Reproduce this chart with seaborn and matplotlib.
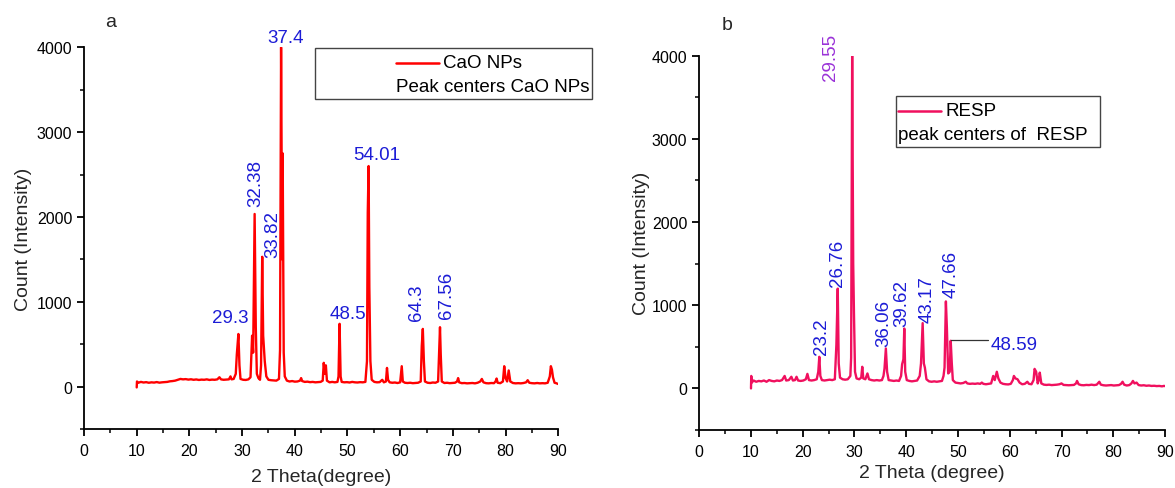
import numpy as np
import pandas as pd
import seaborn as sns
import matplotlib
matplotlib.use("Agg")
import matplotlib.pyplot as plt
from matplotlib.lines import Line2D
from matplotlib.offsetbox import (AnchoredOffsetbox, VPacker, HPacker,
                                  TextArea, DrawingArea)

# ---------------- XRD pattern: CaO nanoparticles ----------------
cao_theta = [
    10.0, 10.05, 10.3, 10.8, 11.3, 11.8, 12.3, 12.8, 13.3, 13.8, 14.3, 14.8,
    15.3, 15.8, 16.3, 16.8, 17.3, 17.8, 18.3, 18.8, 19.3, 19.8, 20.3, 20.8,
    21.3, 21.8, 22.3, 22.8, 23.3, 23.8, 24.3, 24.8, 25.3, 25.7, 26.0, 26.5,
    27.0, 27.5, 27.8, 28.0, 28.4, 28.8, 29.0, 29.3, 29.5, 29.7, 30.2, 30.7,
    31.2, 31.6, 31.9, 32.1, 32.38, 32.6, 32.8, 33.1, 33.4, 33.6, 33.82, 34.0,
    34.3, 34.6, 35.0, 35.5, 36.0, 36.5, 37.0, 37.2, 37.4, 37.6, 37.7, 37.9,
    38.1, 38.5, 39.0, 39.5, 40.0, 40.5, 41.0, 41.2, 41.4, 41.9, 42.4, 42.9,
    43.4, 43.9, 44.4, 44.9, 45.3, 45.5, 45.7, 45.9, 46.1, 46.6, 47.1, 47.6,
    48.1, 48.3, 48.5, 48.7, 48.9, 49.4, 49.9, 50.4, 50.9, 51.4, 51.9, 52.4,
    52.9, 53.4, 53.7, 53.85, 54.01, 54.15, 54.35, 54.6, 55.1, 55.6, 56.1, 56.6,
    56.9, 57.3, 57.5, 57.7, 58.0, 58.5, 59.0, 59.5, 60.0, 60.3, 60.5, 60.9,
    61.4, 61.9, 62.4, 62.9, 63.4, 63.9, 64.1, 64.3, 64.5, 64.7, 65.2, 65.7,
    66.2, 66.7, 67.2, 67.56, 67.7, 67.9, 68.4, 68.9, 69.4, 69.9, 70.4, 70.8,
    71.0, 71.2, 71.7, 72.2, 72.7, 73.2, 73.7, 74.2, 74.7, 75.2, 75.5, 75.8,
    76.3, 76.8, 77.3, 77.8, 78.1, 78.3, 78.5, 79.0, 79.5, 79.75, 80.0, 80.3,
    80.6, 80.9, 81.4, 81.9, 82.4, 82.9, 83.4, 83.9, 84.2, 84.5, 85.0, 85.5,
    86.0, 86.5, 87.0, 87.5, 88.0, 88.4, 88.6, 88.8, 89.0, 89.3, 89.6, 90.0,
]
cao_count = [
    -10, 60, 45, 55, 48, 52, 45, 50, 47, 53, 46, 50,
    52, 55, 62, 65, 70, 80, 90, 85, 88, 82, 86, 80,
    84, 78, 82, 80, 85, 78, 82, 80, 85, 110, 85, 80,
    82, 85, 120, 85, 90, 150, 380, 620, 250, 90, 80, 78,
    85, 110, 600, 400, 2035, 700, 150, 100, 80, 250, 1530, 600,
    300, 120, 80, 75, 72, 70, 90, 430, 4000, 1500, 2750, 400,
    120, 70, 60, 65, 58, 60, 70, 100, 65, 55, 58, 52,
    55, 50, 52, 55, 70, 280, 150, 250, 70, 50, 55, 50,
    55, 120, 740, 120, 55, 50, 52, 48, 55, 50, 48, 52,
    50, 55, 300, 2050, 2600, 1170, 300, 80, 55, 50, 52, 80,
    50, 60, 220, 80, 50, 45, 48, 42, 50, 240, 60, 45,
    42, 45, 40, 42, 45, 60, 480, 680, 300, 60, 45, 42,
    48, 45, 60, 700, 380, 60, 42, 45, 40, 42, 45, 60,
    100, 50, 40, 42, 38, 40, 42, 38, 45, 60, 90, 50,
    40, 38, 42, 40, 60, 95, 45, 40, 60, 240, 100, 60,
    190, 60, 42, 38, 40, 38, 42, 50, 75, 45, 40, 38,
    42, 38, 40, 38, 45, 120, 240, 200, 110, 45, 40, 30,
]
cao_peaks = [29.3, 32.38, 33.82, 37.4, 48.5, 54.01, 64.3, 67.56]

# ---------------- XRD pattern: RESP ----------------
resp_theta = [
    10.0, 10.05, 10.15, 10.5, 11.0, 11.5, 12.0, 12.5, 13.0, 13.5, 14.0, 14.5,
    15.0, 15.5, 16.0, 16.5, 16.8, 17.3, 17.8, 18.1, 18.5, 18.8, 19.1, 19.6,
    20.1, 20.6, 20.9, 21.2, 21.7, 22.2, 22.7, 23.0, 23.2, 23.4, 23.7, 24.2,
    24.7, 25.2, 25.7, 26.2, 26.5, 26.76, 26.95, 27.2, 27.7, 28.2, 28.7, 29.2,
    29.35, 29.55, 29.75, 29.9, 30.1, 30.4, 30.9, 31.3, 31.5, 31.7, 32.1, 32.5,
    32.8, 33.3, 33.8, 34.3, 34.8, 35.3, 35.6, 35.8, 36.06, 36.3, 36.6, 37.1,
    37.6, 38.1, 38.6, 39.0, 39.2, 39.45, 39.62, 39.8, 40.1, 40.6, 41.1, 41.6,
    42.1, 42.6, 42.85, 43.17, 43.4, 43.6, 43.9, 44.4, 44.9, 45.4, 45.9, 46.4,
    46.9, 47.2, 47.4, 47.66, 47.85, 48.1, 48.4, 48.59, 48.8, 49.0, 49.5, 50.0,
    50.5, 51.0, 51.5, 51.8, 52.3, 52.8, 53.3, 53.8, 54.3, 54.6, 54.9, 55.4,
    55.9, 56.4, 56.8, 57.1, 57.5, 57.8, 58.2, 58.7, 59.2, 59.7, 60.2, 60.6,
    60.8, 61.1, 61.5, 61.9, 62.4, 62.9, 63.4, 63.7, 64.2, 64.6, 64.8, 65.1,
    65.4, 65.6, 65.8, 66.1, 66.6, 67.1, 67.6, 68.1, 68.6, 69.1, 69.6, 70.0,
    70.4, 70.9, 71.4, 71.9, 72.4, 72.8, 73.0, 73.3, 73.8, 74.3, 74.8, 75.3,
    75.8, 76.3, 76.8, 77.3, 77.6, 78.1, 78.6, 79.1, 79.6, 80.1, 80.6, 81.1,
    81.5, 81.8, 82.1, 82.6, 83.1, 83.5, 83.8, 84.1, 84.5, 84.9, 85.4, 85.9,
    86.4, 86.9, 87.4, 87.9, 88.4, 88.9, 89.4, 89.8, 90.0,
]
resp_count = [
    0, 150, 70, 95, 80, 90, 85, 95, 80, 100, 90, 85,
    95, 90, 100, 150, 95, 100, 140, 95, 100, 140, 95, 90,
    95, 110, 175, 100, 95, 100, 110, 200, 380, 150, 100, 95,
    100, 105, 100, 110, 525, 1200, 300, 130, 110, 105, 110, 150,
    370, 4000, 1500, 890, 200, 120, 110, 130, 260, 120, 110, 180,
    110, 100, 95, 100, 95, 100, 150, 240, 480, 200, 100, 95,
    90, 95, 90, 150, 290, 350, 720, 200, 100, 90, 85, 90,
    95, 150, 300, 785, 300, 250, 110, 85, 80, 85, 80, 85,
    90, 150, 250, 1046, 730, 180, 200, 573, 300, 100, 70, 65,
    60, 65, 80, 60, 55, 58, 55, 60, 55, 70, 55, 50,
    55, 60, 150, 100, 200, 120, 70, 55, 50, 48, 55, 100,
    150, 120, 110, 70, 50, 55, 80, 55, 50, 100, 235, 200,
    60, 100, 190, 60, 45, 42, 45, 40, 42, 45, 50, 60,
    42, 40, 38, 40, 42, 60, 90, 50, 40, 38, 42, 40,
    45, 40, 45, 80, 45, 38, 35, 38, 40, 35, 38, 40,
    55, 80, 45, 35, 40, 60, 90, 60, 70, 40, 35, 38,
    32, 35, 30, 32, 28, 30, 25, 30, 28,
]
resp_peaks = [23.2, 26.76, 29.55, 36.06, 39.62, 43.17, 47.66, 48.59]

# ---------------- styling ----------------
sns.set_style("ticks")
plt.rcParams["font.family"] = ["Liberation Sans", "DejaVu Sans"]

BLUE = "#1c1cd6"
PURPLE = "#9a32d8"
RED = "#ff0000"
PINK = "#f0105e"

fig = plt.figure(figsize=(11.75, 4.89), dpi=100)
ax_a = fig.add_axes([0.0715, 0.1207, 0.4036, 0.7805])
ax_b = fig.add_axes([0.5951, 0.1186, 0.3964, 0.7654])


def style_axes(ax, xlabel, xpad, ypad):
    ax.set_xlim(0, 90)
    ax.set_ylim(-500, 4000)
    ax.set_xticks(range(0, 91, 10))
    ax.set_xticks(range(5, 90, 10), minor=True)
    ax.set_yticks(range(0, 4001, 1000))
    ax.set_yticks(range(-500, 4001, 500), minor=True)
    for s in ("top", "right"):
        ax.spines[s].set_visible(False)
    for s in ("left", "bottom"):
        ax.spines[s].set_linewidth(1.3)
        ax.spines[s].set_color("black")
    ax.tick_params(axis="both", which="major", direction="out", length=5,
                   width=1.3, labelsize=11.5, colors="black")
    ax.tick_params(axis="x", which="major", pad=5)
    ax.tick_params(axis="both", which="minor", direction="out", length=3,
                   width=1.3)
    ax.set_xlabel(xlabel, fontsize=14, labelpad=xpad)
    ax.set_ylabel("Count (Intensity)", fontsize=14, labelpad=ypad)


def add_legend(ax, color, first, second, anchor, left_gap, right_gap):
    fp = dict(fontsize=13.5, color="black")
    da = DrawingArea(31, 10)
    da.add_artist(Line2D([0, 31], [5, 5], color=color, lw=1.8))
    row1 = HPacker(children=[da, TextArea(first, textprops=fp)],
                   align="center", pad=0, sep=3)
    rows = VPacker(children=[row1, TextArea(second, textprops=fp)],
                   align="left", pad=0, sep=4.5)
    rows = VPacker(children=[DrawingArea(1, 3), rows, DrawingArea(1, 1.5)],
                   align="left", pad=0, sep=0)
    rows = HPacker(children=[DrawingArea(left_gap, 1), rows,
                             DrawingArea(right_gap, 1)],
                   align="center", pad=0, sep=0)
    box = AnchoredOffsetbox(loc="upper left", child=rows, pad=0.15,
                            borderpad=0, frameon=True,
                            bbox_to_anchor=anchor,
                            bbox_transform=fig.transFigure)
    box.patch.set_edgecolor("#444444")
    box.patch.set_linewidth(1.0)
    box.patch.set_boxstyle("square", pad=0)
    box.set_clip_on(False)
    ax.add_artist(box)


# ---- panel a ----
sns.lineplot(x=cao_theta, y=cao_count, ax=ax_a, color=RED, linewidth=1.7,
             estimator=None, sort=False, legend=False)
style_axes(ax_a, "2 Theta(degree)", 7.5, 3.5)

peak_a = dict(zip(cao_theta, cao_count))
# (dx, dy, rotation) for each peak label
label_a = {
    29.3: (-1.6, 100, 0),
    32.38: (0.2, 90, 90),
    33.82: (2.1, 0, 90),
    37.4: (0.8, 20, 0),
    48.5: (1.5, 20, 0),
    54.01: (1.5, 40, 0),
    64.3: (-1.2, 100, 90),
    67.56: (1.2, 110, 90),
}
for p in cao_peaks:
    dx, dy, rot = label_a[p]
    ax_a.text(p + dx, peak_a[p] + dy, f"{p:g}", color=BLUE, fontsize=13.5,
              rotation=rot, ha="center", va="bottom", clip_on=False)
ax_a.text(0.094, 0.955, "a", transform=fig.transFigure, fontsize=14,
          ha="center", va="center")
add_legend(ax_a, RED, "CaO NPs", "Peak centers CaO NPs",
           (315 / 1175, 1 - 49 / 489), 57, 0)

# ---- panel b ----
sns.lineplot(x=resp_theta, y=resp_count, ax=ax_b, color=PINK, linewidth=1.7,
             estimator=None, sort=False, legend=False)
style_axes(ax_b, "2 Theta (degree)", 4, 1.5)

peak_b = dict(zip(resp_theta, resp_count))
label_b = {
    23.2: (0.4, 30, 90),
    26.76: (0.0, 30, 90),
    29.55: (-4.1, -290, 90),
    36.06: (-0.3, 30, 90),
    39.62: (-0.4, 30, 90),
    43.17: (0.9, 10, 90),
    47.66: (1.0, 50, 90),
}
for p in resp_peaks:
    if p not in label_b:
        continue
    dx, dy, rot = label_b[p]
    ax_b.text(p + dx, peak_b[p] + dy, f"{p:g}",
              color=PURPLE if p == 29.55 else BLUE, fontsize=13.5,
              rotation=rot, ha="center", va="bottom", clip_on=False)

# leader line and label for the shoulder peak
p = 48.59
ax_b.plot([p, p + 7.2], [peak_b[p] + 8, peak_b[p] + 8], color="#333333",
          lw=0.9)
ax_b.text(p + 7.7, peak_b[p] - 40, f"{p:g}", color=BLUE, fontsize=13.5,
          ha="left", va="center")
ax_b.text(727 / 1175, 1 - 25 / 489, "b", transform=fig.transFigure,
          fontsize=14, ha="center", va="center")
add_legend(ax_b, PINK, "RESP", "peak centers of  RESP",
           (896 / 1175, 1 - 97 / 489), 0, 7)

fig.savefig("out.png", dpi=100)
